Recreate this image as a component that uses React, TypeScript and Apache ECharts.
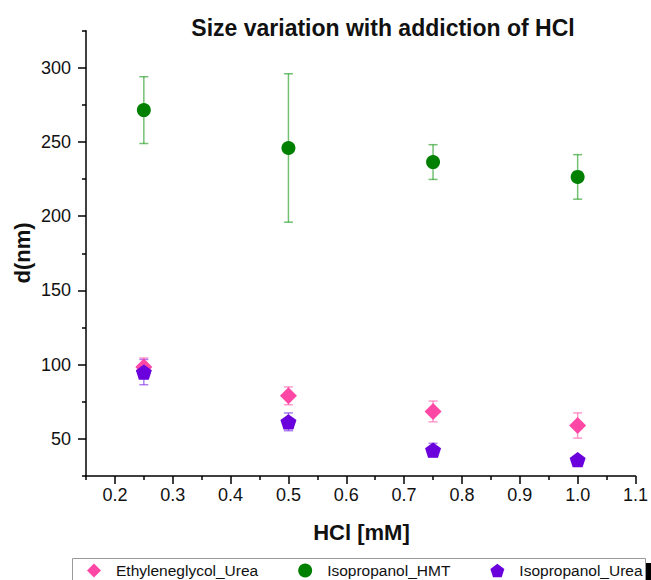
import React, { useEffect, useRef } from "react";
import * as echarts from "echarts";

const xValues = [0.25, 0.5, 0.75, 1.0];
const ethUrea = [98.5, 79, 68.5, 59];
const ethUreaErr = [6, 6, 7, 8.5];
const ipaHMT = [271.5, 246, 236.5, 226.5];
const ipaHMTErr = [22.5, 50, 11.7, 15];
const ipaUrea = [95, 61.5, 42.5, 36];
const ipaUreaErr = [8.5, 6, 4.5, 2];

const xMajorTicks = [0.2, 0.3, 0.4, 0.5, 0.6, 0.7, 0.8, 0.9, 1.0, 1.1];
const xMinorTicks = [0.15, 0.25, 0.35, 0.45, 0.55, 0.65, 0.75, 0.85, 0.95, 1.05];
const yMajorTicks = [50, 100, 150, 200, 250, 300];
const yMinorTicks = [25, 75, 125, 175, 225, 275, 325];

const names = ["Ethyleneglycol_Urea", "Isopropanol_HMT", "Isopropanol_Urea"];
const colors = ["#ff47a6", "#008000", "#6a00dc"];
const errColors = ["rgba(255,90,170,0.6)", "rgba(0,140,0,0.55)", "rgba(120,40,230,0.6)"];

const FONT = "'Liberation Sans', Arial, sans-serif";
const pentagon =
  "path://M0,-1 L0.951,-0.309 L0.588,0.809 L-0.588,0.809 L-0.951,-0.309 Z";

function pts(vals: number[]) {
  return xValues.map((x, i) => [x, vals[i]]);
}
function errs(vals: number[], e: number[]) {
  return xValues.map((x, i) => [x, vals[i] - e[i], vals[i] + e[i]]);
}

function errSeries(data: number[][], color: string) {
  return {
    type: "custom",
    xAxisIndex: 0,
    yAxisIndex: 0,
    z: 1,
    silent: true,
    data,
    renderItem: (params: any, api: any) => {
      const x = api.value(0);
      const lo = api.coord([x, api.value(1)]);
      const hi = api.coord([x, api.value(2)]);
      const w = 4.5;
      const style = { stroke: color, lineWidth: 1.5 };
      return {
        type: "group",
        children: [
          { type: "line", shape: { x1: hi[0], y1: hi[1], x2: lo[0], y2: lo[1] }, style },
          { type: "line", shape: { x1: hi[0] - w, y1: hi[1], x2: hi[0] + w, y2: hi[1] }, style },
          { type: "line", shape: { x1: lo[0] - w, y1: lo[1], x2: lo[0] + w, y2: lo[1] }, style },
        ],
      };
    },
  };
}

export default function App() {
  const ref = useRef<HTMLDivElement>(null);
  useEffect(() => {
    if (!ref.current) return;
    const chart = echarts.init(ref.current, null, { renderer: "svg" });
    const axisLine = { show: true, lineStyle: { color: "#000", width: 1.5 } };
    chart.setOption({
      animation: false,
      backgroundColor: "#fff",
      textStyle: { fontFamily: FONT },
      grid: { left: 86, right: 12, top: 30.7, bottom: 104, containLabel: false },
      title: {
        text: "Size variation with addiction of HCl",
        left: 378,
        top: 11,
        textAlign: "center",
        textStyle: { fontSize: 23, fontWeight: "bold", color: "#111", fontFamily: FONT },
      },
      xAxis: [
        {
          type: "value",
          min: 0.15,
          max: 1.1,
          axisLine,
          splitLine: { show: false },
          axisTick: { show: true, inside: false, length: 8, customValues: xMajorTicks, lineStyle: { color: "#000", width: 1.5 } },
          axisLabel: {
            customValues: xMajorTicks,
            formatter: (v: number) => v.toFixed(1),
            fontSize: 18,
            color: "#111",
            margin: 10,
            fontFamily: FONT,
          },
        },
        {
          type: "value",
          min: 0.15,
          max: 1.1,
          position: "bottom",
          axisLine: { show: false },
          splitLine: { show: false },
          axisTick: { show: true, length: 4, customValues: xMinorTicks, lineStyle: { color: "#000", width: 1.5 } },
          axisLabel: { show: false },
        },
      ],
      yAxis: [
        {
          type: "value",
          min: 25,
          max: 325,
          axisLine,
          splitLine: { show: false },
          axisTick: { show: true, length: 8, customValues: yMajorTicks, lineStyle: { color: "#000", width: 1.5 } },
          axisLabel: {
            customValues: yMajorTicks,
            fontSize: 18,
            color: "#111",
            margin: 15,
            fontFamily: FONT,
          },
        },
        {
          type: "value",
          min: 25,
          max: 325,
          position: "left",
          axisLine: { show: false },
          splitLine: { show: false },
          axisTick: { show: true, length: 4, customValues: yMinorTicks, lineStyle: { color: "#000", width: 1.5 } },
          axisLabel: { show: false },
        },
      ],
      legend: {
        data: names,
        left: 87,
        top: 562.5,
        padding: 0,
        itemWidth: 14,
        itemHeight: 14,
        itemGap: 40,
        textStyle: { fontSize: 15.5, color: "#111", fontFamily: FONT, padding: [0, 0, 0, 10] },
      },
      graphic: [
        {
          type: "rect",
          shape: { x: 72.5, y: 558.5, width: 573, height: 40 },
          style: { fill: "none", stroke: "#9a9a9a", lineWidth: 1 },
          z: -1,
        },
        {
          type: "rect",
          shape: { x: 646, y: 563, width: 5, height: 20 },
          style: { fill: "#000" },
        },
        {
          type: "text",
          x: 22,
          y: 253,
          rotation: Math.PI / 2,
          style: {
            text: "d(nm)",
            fontSize: 22,
            fontWeight: "bold",
            fill: "#111",
            fontFamily: FONT,
            textAlign: "center",
            textVerticalAlign: "middle",
          },
        },
        {
          type: "text",
          x: 361.5,
          y: 532,
          style: {
            text: "HCl [mM]",
            fontSize: 22,
            fontWeight: "bold",
            fill: "#111",
            fontFamily: FONT,
            textAlign: "center",
            textVerticalAlign: "middle",
          },
        },
      ],
      series: [
        errSeries(errs(ethUrea, ethUreaErr), errColors[0]),
        errSeries(errs(ipaHMT, ipaHMTErr), errColors[1]),
        errSeries(errs(ipaUrea, ipaUreaErr), errColors[2]),
        {
          name: names[0],
          type: "scatter",
          symbol: "diamond",
          symbolSize: 17,
          itemStyle: { color: colors[0], opacity: 1 },
          z: 3,
          data: pts(ethUrea),
        },
        {
          name: names[1],
          type: "scatter",
          symbol: "circle",
          symbolSize: 14,
          itemStyle: { color: colors[1], opacity: 1 },
          z: 3,
          data: pts(ipaHMT),
        },
        {
          name: names[2],
          type: "scatter",
          symbol: pentagon,
          symbolKeepAspect: true,
          symbolSize: 16,
          itemStyle: { color: colors[2], opacity: 1 },
          z: 4,
          data: pts(ipaUrea),
        },
      ],
    });
    return () => chart.dispose();
  }, []);
  return <div ref={ref} style={{ width: 651, height: 580, position: "absolute", left: 0, top: 0 }} />;
}
